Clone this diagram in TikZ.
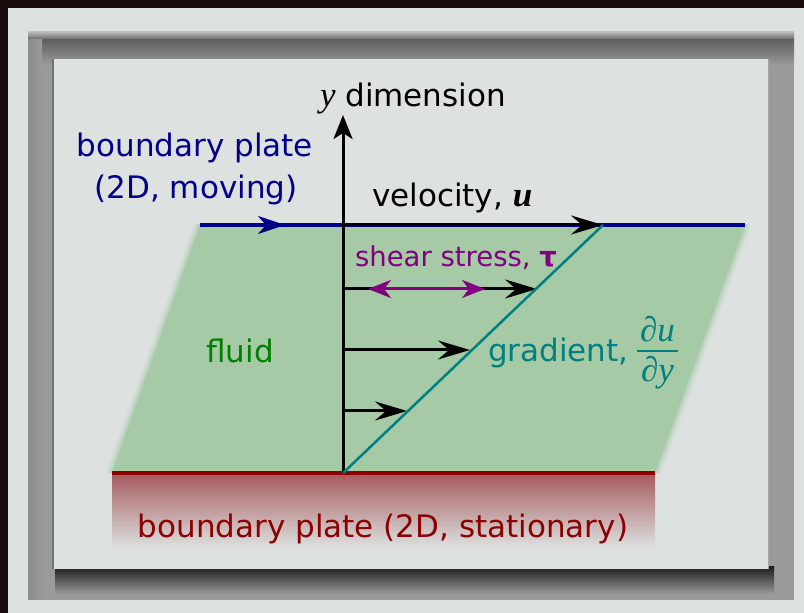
\documentclass[tikz,border=0pt]{standalone}
\usepackage{fontspec}
\setmainfont{DejaVu Sans}
\newfontfamily\serifam{Liberation Serif}
\usetikzlibrary{arrows.meta}
\definecolor{bgdark}{HTML}{1A0C0C}
\definecolor{outerlight}{HTML}{DDE1E0}
\definecolor{framegray}{HTML}{9A9A9A}
\definecolor{panelc}{HTML}{DDE1E0}
\definecolor{fluidc}{HTML}{A6CAA6}
\definecolor{plateblue}{HTML}{000088}
\definecolor{platered}{HTML}{8B0000}
\definecolor{redfade}{HTML}{A65A5E}
\definecolor{shearc}{HTML}{800080}
\definecolor{gradc}{HTML}{008080}
\definecolor{fluidtxt}{HTML}{008000}
\tikzset{
  lbl/.style={inner sep=0pt, outer sep=0pt, font=\fontsize{31}{36}\selectfont},
  mathit/.style={font=\serifam\itshape\fontsize{35}{38}\selectfont},
  blackarrow/.style={line width=3pt, draw=black, -{Stealth[length=32pt,width=19pt,inset=11pt]}},
  axisarrow/.style={line width=3pt, draw=black, -{Stealth[length=24pt,width=19pt,inset=6pt]}},
  shearstyle/.style={line width=3pt, draw=shearc, {Stealth[length=23pt,width=18pt,inset=7pt]}-{Stealth[length=23pt,width=18pt,inset=7pt]}},
  softedge/.style={draw=fluidc, line join=round},
}
\begin{document}
\begin{tikzpicture}[x=1pt,y=1pt]
\useasboundingbox (0,0) rectangle (804,613);
% background and frame
\fill[bgdark] (0,0) rectangle (804,613);
\fill[outerlight] (8,0) rectangle (804,605);
\fill[framegray] (28,13) rectangle (794,581);
\shade[top color=framegray!70!white, bottom color=black!62] (28,573) rectangle (794,581);
\shade[top color=black!62, bottom color=framegray] (28,548) rectangle (794,573);
\shade[left color=black!45, right color=framegray] (28,13) rectangle (42,573);
% panel shadow
\shade[top color=black!88, bottom color=framegray] (55,19) rectangle (774,46);
\fill[black!55] (52,44) rectangle (54,554);
% panel
\fill[panelc] (54,44) rectangle (768,554);
\draw[black!35, line width=0.6pt] (768,44) -- (768,554);
% fluid with soft slanted edges
\coordinate (ftl) at (200,388);
\coordinate (ftr) at (745,388);
\coordinate (fbr) at (655,140);
\coordinate (fbl) at (112,140);
\begin{scope}
\clip (54,140) rectangle (768,388);
\draw[softedge, line width=12pt, opacity=0.15] (ftl) -- (ftr) -- (fbr) -- (fbl) -- cycle;
\draw[softedge, line width=8pt, opacity=0.25] (ftl) -- (ftr) -- (fbr) -- (fbl) -- cycle;
\draw[softedge, line width=4pt, opacity=0.4] (ftl) -- (ftr) -- (fbr) -- (fbl) -- cycle;
\end{scope}
\fill[fluidc] (ftl) -- (ftr) -- (fbr) -- (fbl) -- cycle;
% stationary plate
\shade[top color=redfade, bottom color=panelc] (112,65) rectangle (655,140);
\draw[platered, line width=4pt] (fbl) -- (fbr);
% moving plate
\coordinate (pl) at (200,388);
\coordinate (pr) at (745,388);
\coordinate (pa1) at (250,388);
\coordinate (pa2) at (285,388);
\draw[plateblue, line width=3.2pt] (pl) -- (pr);
\draw[plateblue, line width=3.2pt, -{Stealth[length=27pt,width=18pt,inset=8pt]}] (pa1) -- (pa2);
% axis
\coordinate (orig) at (343,140);
\coordinate (ytop) at (343,498);
\draw[axisarrow] (orig) -- (ytop);
% velocity arrows
\coordinate (v0) at (343,388);
\coordinate (v1) at (603,388);
\coordinate (a0) at (343,324);
\coordinate (a1) at (537,324);
\coordinate (b0) at (343,263);
\coordinate (b1) at (470,263);
\coordinate (c0) at (343,202);
\coordinate (c1) at (407,202);
\draw[blackarrow] (v0) -- (v1);
\draw[blackarrow] (a0) -- (a1);
\draw[blackarrow] (b0) -- (b1);
\draw[blackarrow] (c0) -- (c1);
% shear
\coordinate (s0) at (368,324);
\coordinate (s1) at (485,324);
\draw[shearstyle] (s0) -- (s1);
% gradient line
\draw[gradc, line width=2.5pt] (orig) -- (v1);
% labels
\node[lbl, anchor=base west] (ydim) at (320,506) {{\serifam\itshape\fontsize{35}{38}\selectfont y} dimension};
\node[lbl, anchor=base west] (vel) at (372,406) {velocity, {\serifam\bfseries\itshape\fontsize{35}{38}\selectfont u}};
\node[lbl, anchor=base west, text=shearc, font=\fontsize{27.5}{32}\selectfont] (shear) at (355,346) {shear stress, \textbf{τ}};
\node[lbl, anchor=base west, text=gradc] (grad) at (488,251) {gradient,};
\node[lbl, anchor=base, text=gradc, mathit] (num) at (657.5,271) {∂u};
\node[lbl, anchor=base, text=gradc, mathit] (den) at (657.5,231) {∂y};
\coordinate (bar0) at (637,262);
\coordinate (bar1) at (678,262);
\draw[gradc, line width=1.6pt] (bar0) -- (bar1);
\node[lbl, anchor=base, text=fluidtxt] (fluid) at (240,250) {fluid};
\node[lbl, anchor=base, text=plateblue] (mov1) at (195,456) {boundary plate};
\node[lbl, anchor=base, text=plateblue] (mov2) at (196,414) {(2D, moving)};
\node[lbl, anchor=base, text=platered] (stat) at (383,75) {boundary plate (2D, stationary)};
\end{tikzpicture}
\end{document}
